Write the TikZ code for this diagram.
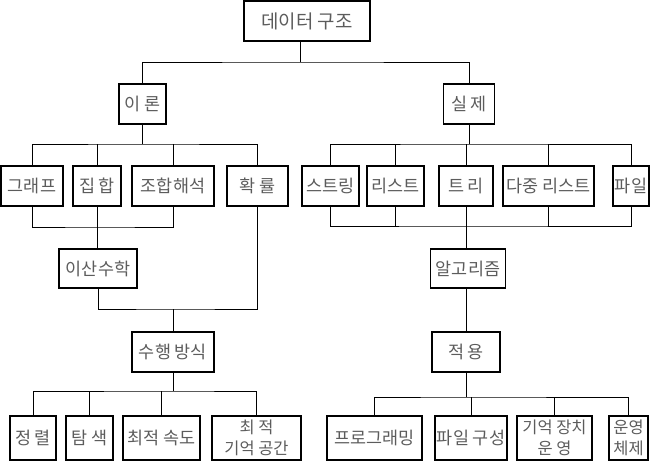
\documentclass[tikz,border=0pt]{standalone}
\usepackage{fontspec}
\setmainfont{Noto Sans CJK KR}
\definecolor{boxgray}{gray}{0.36}
\tikzset{
	treebox/.style={draw, line width=1.8bp, inner sep=0pt, text=boxgray,
		font=\fontsize{17.5}{20}\selectfont, align=center}
}
\tikzset{
	treeline/.style={line width=0.9bp}
}
\tikzset{
	twoline/.style={font=\fontsize{16.5}{21}\selectfont}
}

\begin{document}
\begin{tikzpicture}[x=1bp, y=-1bp]
      \useasboundingbox (0,0) rectangle (650,461);
      % top levels
      \node[treebox, minimum width=126bp, minimum height=40bp, font=\fontsize{19}{20}\selectfont] (root) at (307,21) {데이터 구조};
      \node[treebox, minimum width=47bp, minimum height=40bp] (theory) at (142.5,104) {이 론};
      \node[treebox, minimum width=51bp, minimum height=40bp] (practice) at (469,104) {실 제};
      % second row
      \node[treebox, minimum width=62bp, minimum height=40bp] (graph) at (32,186) {그래프};
      \node[treebox, minimum width=48bp, minimum height=40bp] (sets) at (97,186) {집 합};
      \node[treebox, minimum width=82bp, minimum height=40bp] (comb) at (173,186) {조합해석};
      \node[treebox, minimum width=61bp, minimum height=40bp] (prob) at (257.5,186) {확 률};
      \node[treebox, minimum width=57bp, minimum height=40bp] (string) at (330.5,186) {스트링};
      \node[treebox, minimum width=57bp, minimum height=40bp] (list) at (395.5,186) {리스트};
      \node[treebox, minimum width=54bp, minimum height=40bp] (tree) at (466,186) {트 리};
      \node[treebox, minimum width=91bp, minimum height=40bp] (multilist) at (548.5,186) {다중 리스트};
      \node[treebox, minimum width=36bp, minimum height=40bp] (file) at (631,186) {파일};
      % third and fourth rows
      \node[treebox, minimum width=78bp, minimum height=39bp] (discrete) at (98,268.5) {이산수학};
      \node[treebox, minimum width=75bp, minimum height=39bp] (algo) at (468,268.5) {알고리즘};
      \node[treebox, minimum width=82bp, minimum height=40bp] (method) at (173,352) {수행 방식};
      \node[treebox, minimum width=68bp, minimum height=40bp] (apply) at (466,352) {적 용};
      % bottom row
      \node[treebox, minimum width=46bp, minimum height=44bp] (sort) at (33,438) {정 렬};
      \node[treebox, minimum width=47bp, minimum height=44bp] (search) at (89.5,438) {탐 색};
      \node[treebox, minimum width=77bp, minimum height=44bp] (speed) at (161.5,438) {최적 속도};
      \node[treebox, twoline, minimum width=89bp, minimum height=44bp] (space) at (256.5,438) {최 적\\기억 공간};
      \node[treebox, minimum width=95bp, minimum height=44bp] (prog) at (374.5,438) {프로그래밍};
      \node[treebox, minimum width=72bp, minimum height=44bp] (filecfg) at (471,438) {파일 구성};
      \node[treebox, twoline, minimum width=75bp, minimum height=44bp] (memory) at (554.5,438) {기억 장치\\운 영};
      \node[treebox, twoline, minimum width=39bp, minimum height=44bp] (os) at (628.5,438) {운영\\체제};
      % connectors
      \coordinate (bus1) at (300,62);
      \draw[treeline] (root.south -| bus1) -- (bus1);
      \draw[treeline] (theory.north) |- (bus1) -| (practice.north);
      \coordinate (bus2l) at (142.5,144);
      \draw[treeline] (theory.south) -- (bus2l);
      \draw[treeline] (graph.north) |- (bus2l) -| (prob.north);
      \foreach \n in {sets, comb}
        \draw[treeline] (\n.north) -- (\n.north |- bus2l);
      \coordinate (bus2r) at (469,144);
      \draw[treeline] (practice.south) -- (bus2r);
      \draw[treeline] (string.north) |- (bus2r) -| (file.north);
      \foreach \n in {list, tree, multilist}
        \draw[treeline] (\n.north) -- (\n.north |- bus2r);
      \coordinate (bus3l) at (97,227);
      \draw[treeline] (graph.south) |- (bus3l) -| (comb.south);
      \draw[treeline] (sets.south) -- (sets.south |- discrete.north);
      \coordinate (bus3r) at (466,226);
      \draw[treeline] (string.south) |- (bus3r) -| (file.south);
      \foreach \n in {list, multilist}
        \draw[treeline] (\n.south) -- (\n.south |- bus3r);
      \draw[treeline] (tree.south) -- (tree.south |- algo.north);
      \coordinate (bus4) at (173,309);
      \draw[treeline] (discrete.south) |- (bus4) -| (prob.south);
      \draw[treeline] (bus4) -- (method.north);
      \draw[treeline] (apply.north |- algo.south) -- (apply.north);
      \coordinate (bus5l) at (173,391);
      \draw[treeline] (method.south) -- (bus5l);
      \draw[treeline] (sort.north) |- (bus5l) -| (space.north);
      \foreach \n in {search, speed}
        \draw[treeline] (\n.north) -- (\n.north |- bus5l);
      \coordinate (bus5r) at (466,397);
      \draw[treeline] (apply.south) -- (bus5r);
      \draw[treeline] (prog.north) |- (bus5r) -| (os.north);
      \foreach \n in {filecfg, memory}
        \draw[treeline] (\n.north) -- (\n.north |- bus5r);
    \end{tikzpicture}
\end{document}
